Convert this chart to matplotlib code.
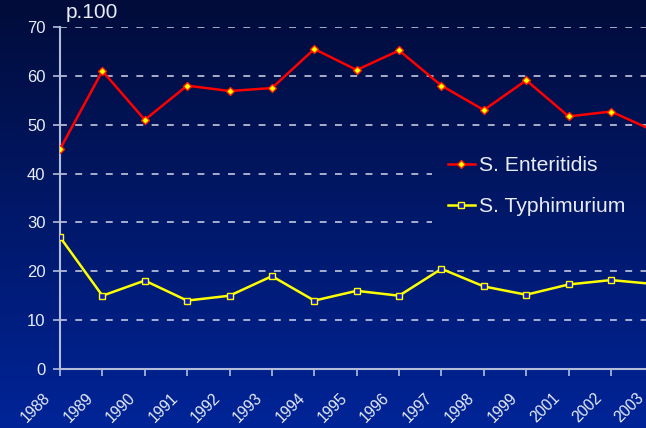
import numpy as np
import matplotlib.pyplot as plt
from matplotlib.transforms import ScaledTranslation

plt.rcParams['font.family'] = ['Liberation Sans', 'DejaVu Sans']

# datos
years = ['1988', '1989', '1990', '1991', '1992', '1993', '1994', '1995',
         '1996', '1997', '1998', '1999', '2001', '2002', '2003']
enteritidis = [45, 61, 51, 58, 56.9, 57.5, 65.5, 61.2, 65.2, 58, 53, 59.1, 51.7, 52.7, 48.8]
typhimurium = [27, 15, 18.1, 14, 15, 19, 14, 16, 15, 20.5, 16.9, 15.2, 17.3, 18.2, 17.4]
grid_levels = [10, 20, 30, 40, 50, 60, 70]

W, H = 646, 428
fig = plt.figure(figsize=(W / 100, H / 100), dpi=100)

# fondo degradado azul
top_col = np.array([2, 12, 58]) / 255
bot_col = np.array([0, 36, 152]) / 255
t = np.linspace(0, 1, H)[:, None]
grad = top_col + (bot_col - top_col) * t
bg = fig.add_axes([0, 0, 1, 1], zorder=0)
bg.imshow(grad[:, None, :], aspect='auto', extent=[0, 1, 0, 1])
bg.axis('off')

txt_col = '#e8ecf6'
axis_col = '#b4bcdc'

ax = fig.add_axes([60 / W, 59 / H, 593.4 / W, 342 / H], zorder=1)
ax.patch.set_alpha(0)

x = np.arange(len(years))
ax.plot(x, enteritidis, color='#ff0000', lw=1.8, marker='D', ms=4,
        mfc='#ffff00', mec='#ff2000', mew=1, label='S. Enteritidis', zorder=3)
ax.plot(x, typhimurium, color='#ffff00', lw=1.8, marker='s', ms=5,
        mfc='#1018c0', mec='#ffff00', mew=1, label='S. Typhimurium', zorder=3)

ax.set_xlim(0, len(years) - 1)
ax.set_ylim(0, 70)
ax.set_yticks(range(0, 71, 10))
ax.set_xticks(x)
ax.set_xticklabels(years, rotation=45, ha='right', rotation_mode='anchor')

# rejilla: las lineas de 30 y 40 se cortan donde esta la leyenda
leg_left = (432 - 60) / 593.4
for g in grid_levels:
    xmax = leg_left if g in (30, 40) else 1
    ax.axhline(g, xmin=0, xmax=xmax, linestyle=(0, (4.5, 5.5)),
               color='#d4d8ea', lw=1.1, zorder=1)

for s in ['top', 'right']:
    ax.spines[s].set_visible(False)
for s in ['left', 'bottom']:
    ax.spines[s].set_color(axis_col)
    ax.spines[s].set_linewidth(1.5)
ax.tick_params(colors=axis_col, labelcolor=txt_col, labelsize=12,
               length=5, width=1.2, direction='out')
ax.tick_params(axis='y', pad=5.5)
ax.tick_params(axis='x', pad=10.5, labelsize=11.2)

shift = ScaledTranslation(-17 / 100, 0, fig.dpi_scale_trans)
for lab in ax.get_xticklabels():
    lab.set_transform(lab.get_transform() + shift)

fig.text(66 / W, 1 - 13 / H, 'p.100', color=txt_col, fontsize=15,
         ha='left', va='center')

leg = ax.legend(loc='center left', bbox_to_anchor=(435 / W, 1 - 186 / H),
                bbox_transform=fig.transFigure, fontsize=15.2,
                handlelength=1.3, handletextpad=0.2, labelspacing=1.05,
                borderpad=0.6, borderaxespad=0, frameon=False)
for tx in leg.get_texts():
    tx.set_color(txt_col)

fig.savefig('out.png', dpi=100)
